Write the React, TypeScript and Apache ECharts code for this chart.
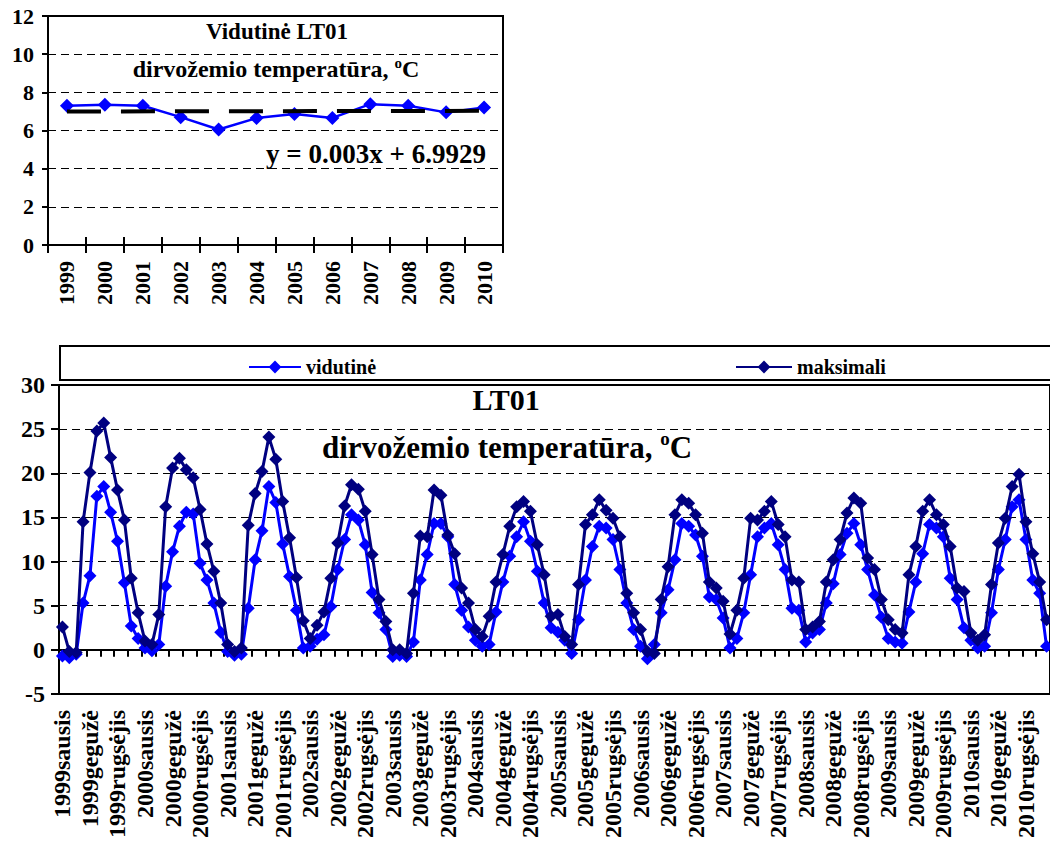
import React, { useEffect, useRef } from "react";
import * as echarts from "echarts";

const FONT = "Liberation Serif, Times New Roman, serif";

// ---- top chart (annual means) ----
const years = ["1999", "2000", "2001", "2002", "2003", "2004", "2005", "2006", "2007", "2008", "2009", "2010"];
const annualMean = [7.3, 7.35, 7.3, 6.7, 6.05, 6.65, 6.87, 6.66, 7.38, 7.3, 6.95, 7.2];
// trend line y = 0.003x + 6.9929 evaluated at first (x=1) and last (x=12) year
const trendEnds = [6.996, 7.029];
const topYTicks = { min: 0, max: 12, interval: 2 };

// ---- bottom chart (monthly) ----
const monthNames = ["sausis", "vasaris", "kovas", "balandis", "gegužė", "birželis", "liepa", "rugpjūtis", "rugsėjis", "spalis", "lapkritis", "gruodis"];
const bottomYTicks = { min: -5, max: 30, interval: 5 };

const vidutine = [
  -0.7, -0.9, -0.5, 5.3, 8.4, 17.4, 18.5, 15.6, 12.3, 7.6, 2.7, 1.3,
  0.2, -0.1, 0.6, 7.2, 11.1, 14.0, 15.6, 15.4, 9.8, 7.9, 5.3, 2.0,
  -0.2, -0.6, -0.5, 4.7, 10.2, 13.5, 18.5, 16.7, 12.0, 8.3, 4.5, 0.2,
  0.4, 1.2, 1.7, 4.9, 9.1, 12.5, 15.3, 14.7, 11.9, 6.5, 4.2, 2.3,
  -0.75, -0.6, -0.75, 0.9, 7.9, 10.8, 14.3, 14.3, 12.8, 7.4, 4.5, 2.6,
  1.1, 0.4, 0.6, 4.3, 7.7, 10.6, 12.8, 14.5, 12.3, 8.9, 5.3, 2.5,
  2.0, 1.1, -0.4, 3.4, 7.9, 11.7, 14.0, 13.8, 12.5, 9.1, 5.3, 2.3,
  0.4, -1.0, 0.6, 4.2, 6.8, 10.2, 14.3, 14.0, 13.0, 10.6, 6.0, 5.7,
  3.6, 0.2, 1.3, 4.2, 8.5, 12.8, 13.8, 14.3, 11.9, 9.1, 4.7, 4.5,
  0.9, 1.9, 2.3, 5.3, 7.5, 10.8, 13.2, 14.3, 11.9, 9.1, 6.2, 3.7,
  1.3, 0.9, 0.75, 4.3, 7.7, 10.9, 14.2, 13.8, 12.8, 8.1, 5.7, 2.5,
  1.1, 0.2, 0.4, 4.2, 9.1, 12.5, 16.2, 17.0, 12.5, 7.9, 6.4, 0.4,
];

const maksimali = [
  2.6, -0.2, -0.3, 14.5, 20.1, 24.8, 25.7, 21.8, 18.1, 14.7, 8.1, 4.2,
  1.0, 0.6, 4.0, 16.2, 20.6, 21.7, 20.4, 19.5, 15.9, 12.0, 8.9, 5.3,
  0.6, -0.2, 0.2, 14.1, 17.7, 20.2, 24.1, 21.6, 16.8, 12.7, 8.2, 3.3,
  1.3, 2.8, 4.3, 8.1, 12.1, 16.3, 18.7, 18.2, 15.7, 10.8, 5.7, 3.2,
  0.0, 0.0, -0.4, 6.4, 12.9, 12.8, 18.1, 17.5, 13.0, 10.9, 7.0, 5.3,
  2.3, 1.5, 3.8, 7.7, 10.8, 14.0, 16.2, 16.8, 15.7, 11.9, 8.5, 3.8,
  4.0, 1.5, 0.6, 7.4, 14.2, 15.3, 17.0, 15.8, 14.9, 12.8, 6.4, 4.2,
  2.3, -0.2, -0.4, 5.7, 9.4, 15.3, 17.0, 16.6, 15.3, 13.2, 7.7, 7.0,
  5.5, 1.8, 4.5, 8.1, 14.9, 14.7, 15.7, 16.8, 14.2, 12.8, 7.9, 7.7,
  2.3, 2.6, 3.2, 7.7, 10.2, 12.5, 15.5, 17.2, 16.6, 10.4, 9.1, 5.7,
  3.4, 2.3, 1.9, 8.5, 11.7, 15.7, 17.0, 15.3, 14.2, 11.7, 7.0, 6.6,
  1.9, 1.1, 1.7, 7.4, 12.1, 14.9, 18.5, 19.9, 14.5, 10.9, 7.7, 3.4,
];

const monthCategories = years.flatMap((y) => monthNames.map((m) => y + m));

const BLUE = "#0000FF";
const NAVY = "#000080";

export default function App() {
  const ref = useRef<HTMLDivElement>(null);

  useEffect(() => {
    if (!ref.current) return;
    const chart = echarts.init(ref.current, undefined, { renderer: "svg" });

    const trendData = years.map((_, i) =>
      i === 0 ? trendEnds[0] : i === years.length - 1 ? trendEnds[1] : null
    );

    const boldText = (size: number) => ({
      fontSize: size,
      fontWeight: "bold" as const,
      fontFamily: FONT,
      color: "#000",
    });

    const option: any = {
      animation: false,
      backgroundColor: "#fff",
      textStyle: { fontFamily: FONT },
      grid: [
        { left: 48, top: 16, width: 455, height: 229, show: true, borderColor: "#000", borderWidth: 2, backgroundColor: "transparent" },
        { left: 59, top: 385, width: 992, height: 309, show: true, borderColor: "#000", borderWidth: 2, backgroundColor: "transparent" },
      ],
      xAxis: [
        {
          gridIndex: 0, type: "category", data: years, position: "bottom", boundaryGap: true,
          axisLine: { lineStyle: { color: "#000", width: 2 } },
          axisTick: { show: true, length: 8, lineStyle: { color: "#000", width: 2 } },
          axisLabel: { ...boldText(22), rotate: 90, margin: 16, interval: 0 },
        },
        {
          gridIndex: 0, type: "category", data: years, position: "bottom", boundaryGap: true,
          axisLine: { show: false },
          axisTick: { show: true, inside: true, length: 8, lineStyle: { color: "#000", width: 2 } },
          axisLabel: { show: false },
        },
        {
          gridIndex: 1, type: "category", data: monthCategories, position: "bottom", boundaryGap: true,
          axisLine: { onZero: true, lineStyle: { color: "#000", width: 2 } },
          axisTick: { show: true, interval: 1, length: 7, lineStyle: { color: "#000", width: 2 } },
          axisLabel: { show: false },
        },
        {
          gridIndex: 1, type: "category", data: monthCategories, position: "bottom", boundaryGap: true,
          axisLine: { show: false, onZero: false },
          axisTick: { show: false },
          axisLabel: { ...boldText(24), rotate: 90, margin: 16, interval: 3 },
        },
      ],
      yAxis: [
        {
          gridIndex: 0, type: "value", ...topYTicks,
          axisLine: { show: true, lineStyle: { color: "#000", width: 2 } },
          axisTick: { show: true, length: 6, lineStyle: { color: "#000", width: 2 } },
          axisLabel: { ...boldText(22), margin: 14 },
          splitLine: { show: true, lineStyle: { color: "#000", width: 1, type: [8, 5] } },
        },
        {
          gridIndex: 1, type: "value", ...bottomYTicks,
          axisLine: { show: true, lineStyle: { color: "#000", width: 2 } },
          axisTick: { show: true, length: 8, lineStyle: { color: "#000", width: 2 } },
          axisLabel: { ...boldText(24), margin: 14 },
          splitLine: { show: true, lineStyle: { color: "#000", width: 1, type: [8, 5] } },
        },
      ],
      legend: [
        {
          data: ["vidutinė"], left: 243, top: 352, itemWidth: 52, itemHeight: 16,
          textStyle: boldText(20), selectedMode: false,
        },
        {
          data: ["maksimali"], left: 730, top: 352, itemWidth: 56, itemHeight: 16,
          textStyle: boldText(20), selectedMode: false,
        },
      ],
      series: [
        {
          name: "Vidutinė metinė", type: "line", xAxisIndex: 0, yAxisIndex: 0, data: annualMean,
          symbol: "diamond", symbolSize: 14, showAllSymbol: true,
          itemStyle: { color: BLUE }, lineStyle: { color: BLUE, width: 2.5 }, z: 3,
        },
        {
          name: "trend", type: "line", xAxisIndex: 0, yAxisIndex: 0, data: trendData, connectNulls: true,
          symbol: "none", lineStyle: { color: "#000", width: 4, type: [34, 20] }, z: 4,
        },
        {
          name: "vidutinė", type: "line", xAxisIndex: 2, yAxisIndex: 1, data: vidutine,
          symbol: "diamond", symbolSize: 13, showSymbol: true, showAllSymbol: true,
          itemStyle: { color: BLUE }, lineStyle: { color: BLUE, width: 3 }, z: 3,
        },
        {
          name: "maksimali", type: "line", xAxisIndex: 2, yAxisIndex: 1, data: maksimali,
          symbol: "diamond", symbolSize: 13, showSymbol: true, showAllSymbol: true,
          itemStyle: { color: NAVY }, lineStyle: { color: NAVY, width: 3 }, z: 4,
        },
      ],
      graphic: [
        {
          type: "rect", z: 10,
          shape: { x: 60, y: 346, width: 1000, height: 34 },
          style: { fill: "none", stroke: "#000", lineWidth: 2 },
        },
        {
          type: "text", x: 277, y: 31, z: 10,
          style: { text: "Vidutinė LT01", fontSize: 23, fontWeight: "bold", fontFamily: FONT, fill: "#000", align: "center", verticalAlign: "middle" },
        },
        {
          type: "text", x: 276, y: 69, z: 10,
          style: {
            text: "{a|dirvožemio temperatūra, }{s|o}{a|C}",
            align: "center", verticalAlign: "middle", fill: "#000",
            rich: {
              a: { fontSize: 24, fontWeight: "bold", fontFamily: FONT, fill: "#000", lineHeight: 28 },
              s: { fontSize: 15, fontWeight: "bold", fontFamily: FONT, fill: "#000", lineHeight: 28, verticalAlign: "top" },
            },
          },
        },
        {
          type: "text", x: 376, y: 154, z: 10,
          style: { text: "y = 0.003x + 6.9929", fontSize: 27, fontWeight: "bold", fontFamily: FONT, fill: "#000", align: "center", verticalAlign: "middle" },
        },
        {
          type: "text", x: 506, y: 399, z: 10,
          style: { text: "LT01", fontSize: 30, fontWeight: "bold", fontFamily: FONT, fill: "#000", align: "center", verticalAlign: "middle" },
        },
        {
          type: "text", x: 507, y: 447, z: 10,
          style: {
            text: "{a|dirvožemio temperatūra, }{s|o}{a|C}",
            align: "center", verticalAlign: "middle", fill: "#000",
            rich: {
              a: { fontSize: 31, fontWeight: "bold", fontFamily: FONT, fill: "#000", lineHeight: 36 },
              s: { fontSize: 19, fontWeight: "bold", fontFamily: FONT, fill: "#000", lineHeight: 36, verticalAlign: "top" },
            },
          },
        },
      ],
    };

    chart.setOption(option);
    return () => chart.dispose();
  }, []);

  return (
    <div
      ref={ref}
      style={{ position: "absolute", left: 0, top: 0, width: 1050, height: 852, background: "#fff", overflow: "hidden" }}
    />
  );
}
